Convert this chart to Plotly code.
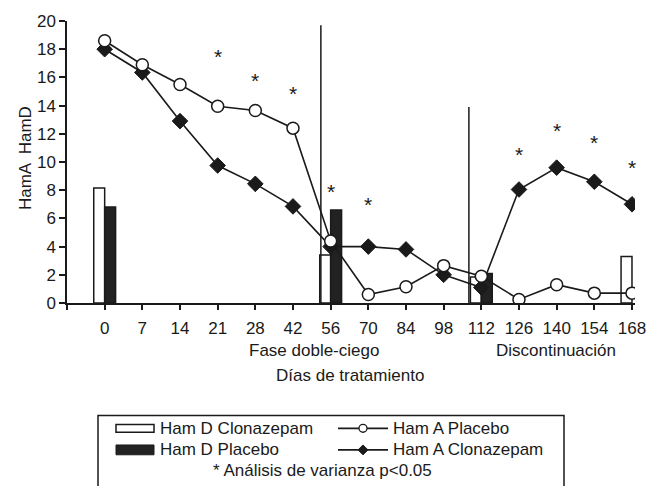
import plotly.graph_objects as go

# ---------------- data ----------------
days = ["0", "7", "14", "21", "28", "42", "56", "70", "84", "98", "112", "126", "140", "154", "168"]
hamd_clonazepam = [8.15, None, None, None, None, None, 3.4, None, None, None, 1.85, None, None, None, 3.3]
hamd_placebo = [6.8, None, None, None, None, None, 6.6, None, None, None, 2.1, None, None, None, None]
hama_placebo = [18.6, 16.9, 15.5, 13.95, 13.65, 12.4, 4.4, 0.6, 1.15, 2.65, 1.9, 0.25, 1.3, 0.7, 0.7]
hama_clonazepam = [18.0, 16.35, 12.9, 9.75, 8.45, 6.85, 4.0, 4.0, 3.8, 2.0, 1.1, 8.05, 9.6, 8.6, 7.0]
sig_days = ["21", "28", "42", "56", "70", "126", "140", "154", "168"]
sig_y = [17.6, 15.9, 15.0, 8.05, 7.1, 10.65, 12.4, 11.5, 9.75]
phase_labels = ["Fase doble-ciego", "Discontinuación"]
y_ticks = list(range(0, 21, 2))

# ---------------- layout constants ----------------
W, H = 662, 486
L, R, T, B = 67, 27, 15, 183
PW, PH = W - L - R, H - T - B
FONT = "Liberation Sans, Arial, sans-serif"
INK = "#1a1a1a"
FS = 17


def px(x):
    return (x - L) / PW


def py(y):
    return (H - B - y) / PH


xi = list(range(len(days)))
pos = {d: i for i, d in enumerate(days)}

fig = go.Figure()
fig.add_trace(go.Bar(x=xi, y=hamd_clonazepam, name="Ham D Clonazepam",
                     marker=dict(color="white", line=dict(color=INK, width=1.5))))
fig.add_trace(go.Bar(x=xi, y=hamd_placebo, name="Ham D Placebo",
                     marker=dict(color="#222222", line=dict(color=INK, width=1.5))))
fig.add_trace(go.Scatter(x=xi, y=hama_clonazepam, name="Ham A Clonazepam", mode="lines+markers",
                         line=dict(color=INK, width=1.6),
                         marker=dict(symbol="diamond", size=12, color=INK, line=dict(color=INK, width=1))))
fig.add_trace(go.Scatter(x=xi, y=hama_placebo, name="Ham A Placebo", mode="lines+markers",
                         line=dict(color=INK, width=1.6),
                         marker=dict(symbol="circle", size=12, color="white", line=dict(color=INK, width=1.5))))

# significance asterisks
for d, v in zip(sig_days, sig_y):
    fig.add_annotation(x=pos[d], y=v, text="*", showarrow=False, yshift=-2,
                       font=dict(size=21, color=INK, family=FONT), xanchor="center", yanchor="middle")

# phase separators
fig.add_shape(type="line", x0=5.74, x1=5.74, y0=0, y1=19.7, xref="x", yref="y",
              line=dict(color=INK, width=1.5))
fig.add_shape(type="line", x0=9.67, x1=9.67, y0=0, y1=13.9, xref="x", yref="y",
              line=dict(color=INK, width=1.5))

# axis titles / phase labels
lab_font = dict(size=FS, color=INK, family=FONT)
for text, x, y, ang in [(phase_labels[0], 314, 352, 0), (phase_labels[1], 556, 352, 0),
                        ("Días de tratamiento", 350, 377, 0), ("HamA  HamD", 25, 155, -90)]:
    fig.add_annotation(x=px(x), y=py(y), xref="paper", yref="paper", text=text, textangle=ang,
                       showarrow=False, xanchor="center", yanchor="middle", font=lab_font)

# ---------------- manual legend ----------------
shapes = []
bx0, bx1, by0, by1 = 98, 564, 418, 500
shapes.append(dict(type="rect", xref="paper", yref="paper", x0=px(bx0), x1=px(bx1), y0=py(by1), y1=py(by0),
                   line=dict(color=INK, width=1.5), fillcolor="rgba(0,0,0,0)"))
r1, r2, r3 = 431, 453, 474
sx0, sx1, tx1 = 116, 154, 158
lx0, lx1, tx2 = 338, 388, 391
shapes.append(dict(type="rect", xref="paper", yref="paper", x0=px(sx0), x1=px(sx1), y0=py(r1 + 4), y1=py(r1 - 4),
                   line=dict(color=INK, width=1.5), fillcolor="white"))
shapes.append(dict(type="rect", xref="paper", yref="paper", x0=px(sx0), x1=px(sx1), y0=py(r2 + 5), y1=py(r2 - 5),
                   line=dict(color=INK, width=1), fillcolor="#222222"))
for ry in (r1, r2):
    shapes.append(dict(type="line", xref="paper", yref="paper", x0=px(lx0), x1=px(lx1), y0=py(ry), y1=py(ry),
                       line=dict(color=INK, width=1.6)))
cx = (lx0 + lx1) / 2
shapes.append(dict(type="circle", xref="paper", yref="paper", x0=px(cx - 4), x1=px(cx + 4), y0=py(r1 + 4),
                   y1=py(r1 - 4), line=dict(color=INK, width=1.3), fillcolor="white"))
d = 5
shapes.append(dict(type="path", xref="paper", yref="paper",
                   path=f"M {px(cx - d)} {py(r2)} L {px(cx)} {py(r2 - d)} L {px(cx + d)} {py(r2)} L {px(cx)} {py(r2 + d)} Z",
                   line=dict(color=INK, width=1), fillcolor=INK))
for s in shapes:
    fig.add_shape(**s)

leg_font = dict(size=FS, color=INK, family=FONT)
for text, x, y in [(fig.data[0].name, tx1, r1), (fig.data[3].name, tx2, r1),
                   (fig.data[1].name, tx1, r2), (fig.data[2].name, tx2, r2)]:
    fig.add_annotation(x=px(x), y=py(y), xref="paper", yref="paper", text=text, showarrow=False,
                       xanchor="left", yanchor="middle", font=leg_font)
fig.add_annotation(x=px(322), y=py(r3), xref="paper", yref="paper", text="* Análisis de varianza p<0.05",
                   showarrow=False, xanchor="center", yanchor="middle", font=leg_font)

fig.update_layout(
    width=W, height=H, margin=dict(l=L, r=R, t=T, b=B),
    paper_bgcolor="white", plot_bgcolor="white",
    barmode="group", bargap=0.42, bargroupgap=0,
    showlegend=False,
    font=dict(family=FONT, size=FS, color=INK),
)
fig.update_xaxes(range=[-1, 14.08], tickvals=[-1] + xi, ticktext=[""] + days,
                 showline=True, linecolor=INK, linewidth=1.5, ticks="outside", ticklen=5,
                 tickcolor=INK, tickwidth=1.5, showgrid=False, zeroline=False,
                 ticklabelstandoff=4, tickfont=dict(size=FS, color=INK, family=FONT))
fig.update_yaxes(range=[0, 20], tickvals=y_ticks, showline=True, linecolor=INK, linewidth=1.5,
                 ticks="outside", ticklen=6, tickcolor=INK, tickwidth=1.5, showgrid=False, zeroline=False,
                 tickfont=dict(size=FS, color=INK, family=FONT))

fig.write_html("out.html", config={"displayModeBar": False},
               post_script="document.body.style.margin='0px'; document.body.style.overflow='hidden';")
